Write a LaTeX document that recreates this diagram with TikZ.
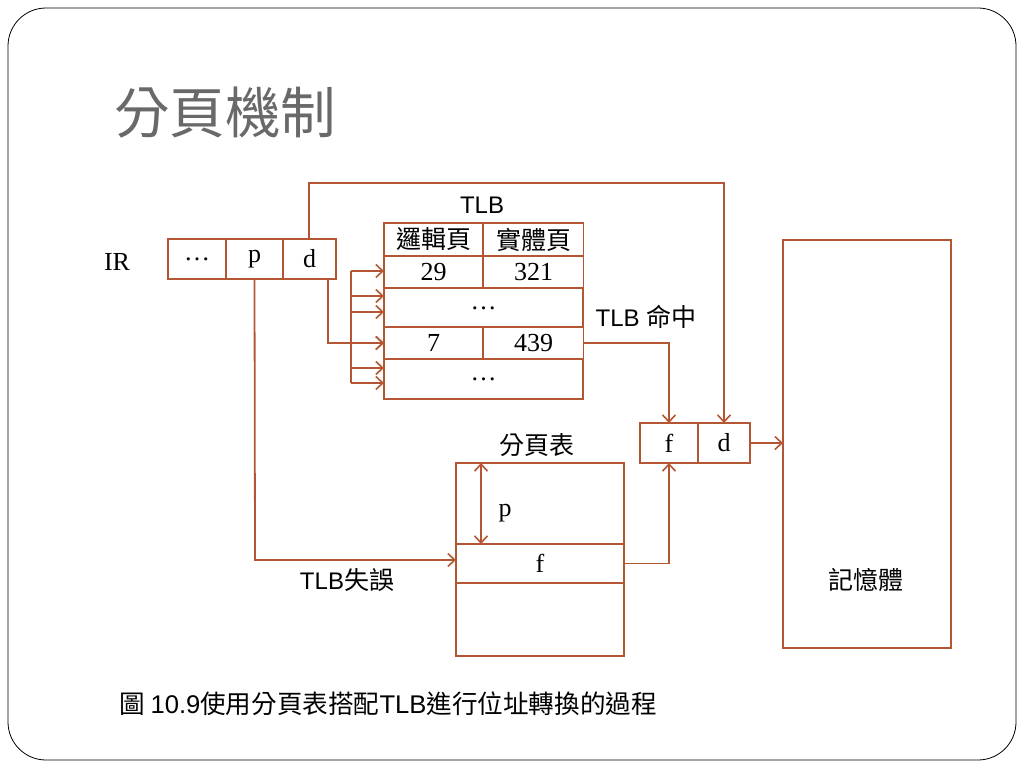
\documentclass[tikz,border=0pt]{standalone}
\usepackage{fontspec}
\setmainfont{Liberation Serif}
\newfontfamily\cjk{Noto Sans CJK TC}
\newfontfamily\sans{Liberation Sans}
\usetikzlibrary{arrows.meta,calc}
\definecolor{wire}{RGB}{180,86,52}
\definecolor{titlegray}{RGB}{105,105,105}
\begin{document}
\begin{tikzpicture}[x=1pt,y=-1pt,
  cell/.style={draw=wire,line width=1.8pt,rectangle,inner sep=0pt,outer sep=0pt,
    font=\fontsize{26}{30}\selectfont},
  lbl/.style={inner sep=0pt,font=\fontsize{26}{30}\selectfont},
  hz/.style={font=\cjk\fontsize{25}{29}\selectfont},
  link/.style={draw=wire,line width=1.8pt},
  arr/.style={link,-{Straight Barb[length=7pt,width=13pt,line width=1.6pt]}},
  darr/.style={link,{Straight Barb[length=7pt,width=13pt,line width=1.6pt]}-{Straight Barb[length=7pt,width=13pt,line width=1.6pt]}}]
\useasboundingbox (0,0) rectangle (1024,768);
% slide frame
\draw[line width=0.8pt,rounded corners=38pt] (8,8) rectangle (1016,760);
\node[anchor=west,inner sep=0pt,text=titlegray,font=\cjk\fontsize{55.5}{60}\selectfont] (title) at (114,113) {分頁機制};

% instruction register
\node[lbl] (irlbl) at (117,262) {IR};
\node[cell,minimum width=58pt,minimum height=40pt] (ira) at (197,259) {\ldots};
\node[cell,minimum width=57pt,minimum height=40pt] (irp) at (254.5,259) {p};
\node[cell,minimum width=53pt,minimum height=40pt] (ird) at (309.5,259) {d};

% TLB
\node[lbl,font=\sans\fontsize{24}{28}\selectfont] (tlblbl) at (482,205) {TLB};
\node[cell,minimum width=99pt,minimum height=33pt,hz] (h1) at (433.5,239.5) {邏輯頁};
\node[cell,minimum width=100pt,minimum height=33pt,hz] (h2) at (533.5,239.5) {實體頁};
\node[cell,minimum width=99pt,minimum height=32pt] (r1a) at (433.5,272) {29};
\node[cell,minimum width=100pt,minimum height=32pt] (r1b) at (533.5,272) {321};
\node[cell,minimum width=199pt,minimum height=39pt] (r2) at (483.5,307.5) {\raisebox{-4pt}{\ldots}};
\node[cell,minimum width=99pt,minimum height=32pt] (r3a) at (433.5,343) {7};
\node[cell,minimum width=100pt,minimum height=32pt] (r3b) at (533.5,343) {439};
\node[cell,minimum width=199pt,minimum height=40pt] (r4) at (483.5,379) {\raisebox{-4pt}{\ldots}};
\node[lbl,font=\sans\fontsize{24}{28}\selectfont] (hit) at (646,317) {TLB {\cjk\fontsize{25}{29}\selectfont 命中}};

% physical address
\node[cell,minimum width=58pt,minimum height=40pt] (pf) at (669,443) {f};
\node[cell,minimum width=52pt,minimum height=40pt] (pd) at (724,443) {d};

% page table
\node[lbl,hz] (ptlbl) at (537,445) {分頁表};
\node[cell,minimum width=168pt,minimum height=81pt] (pttop) at (540,503.5) {};
\node[cell,minimum width=168pt,minimum height=39pt] (ptf) at (540,563.5) {f};
\node[cell,minimum width=168pt,minimum height=73pt] (ptbot) at (540,619.5) {};
\coordinate (offa) at (481,463);
\coordinate (offb) at (481,544);
\node[lbl] (offlbl) at (505,513) {p};
\node[lbl,font=\sans\fontsize{24}{28}\selectfont] (miss) at (347,580) {TLB{\cjk\fontsize{25}{29}\selectfont 失誤}};

% memory
\node[cell,minimum width=168pt,minimum height=408pt] (mem) at (867,444) {};
\node[lbl,hz] (memlbl) at (866,580) {記憶體};

% caption
\node[anchor=west,inner sep=0pt,font=\cjk\fontsize{25.6}{30}\selectfont] (cap) at (119,704)
  {圖 {\sans 10.9}使用分頁表搭配{\sans TLB}進行位址轉換的過程};

% page number fanned out to every TLB entry
\coordinate (b1) at (351,271);
\coordinate (b2) at (351,296);
\coordinate (b3) at (351,312);
\coordinate (b4) at (351,343);
\coordinate (b5) at (351,368);
\coordinate (b6) at (351,383);
\draw[link] (b1) -- (b6);
\draw[arr] (b1) -- (r1a.west |- b1);
\draw[arr] (b2) -- (r2.west |- b2);
\draw[arr] (b3) -- (r2.west |- b3);
\draw[arr] (b4) -- (r3a.west |- b4);
\draw[arr] (b5) -- (r4.west |- b5);
\draw[arr] (b6) -- (r4.west |- b6);
\draw[arr] ($(ird.south east)+(-8,0)$) |- (r3a.west);

% offset goes straight to the physical address
\coordinate (top) at (309,183);
\draw[arr] (ird.north -| top) -- (top) -| (pd.north);

% TLB hit
\draw[arr] (r3b.east) -| (pf.north);

% TLB miss through the page table
\coordinate (miss1) at (255,560);
\draw[arr] (irp.south |- ira.south) -- (miss1) -- (ptf.west |- miss1);
\draw[darr] (offa) -- (offb);
\draw[arr] (ptf.east) -| (pf.south);

% to memory
\draw[arr] (pd.east) -- (mem.west |- pd.east);
\end{tikzpicture}
\end{document}
